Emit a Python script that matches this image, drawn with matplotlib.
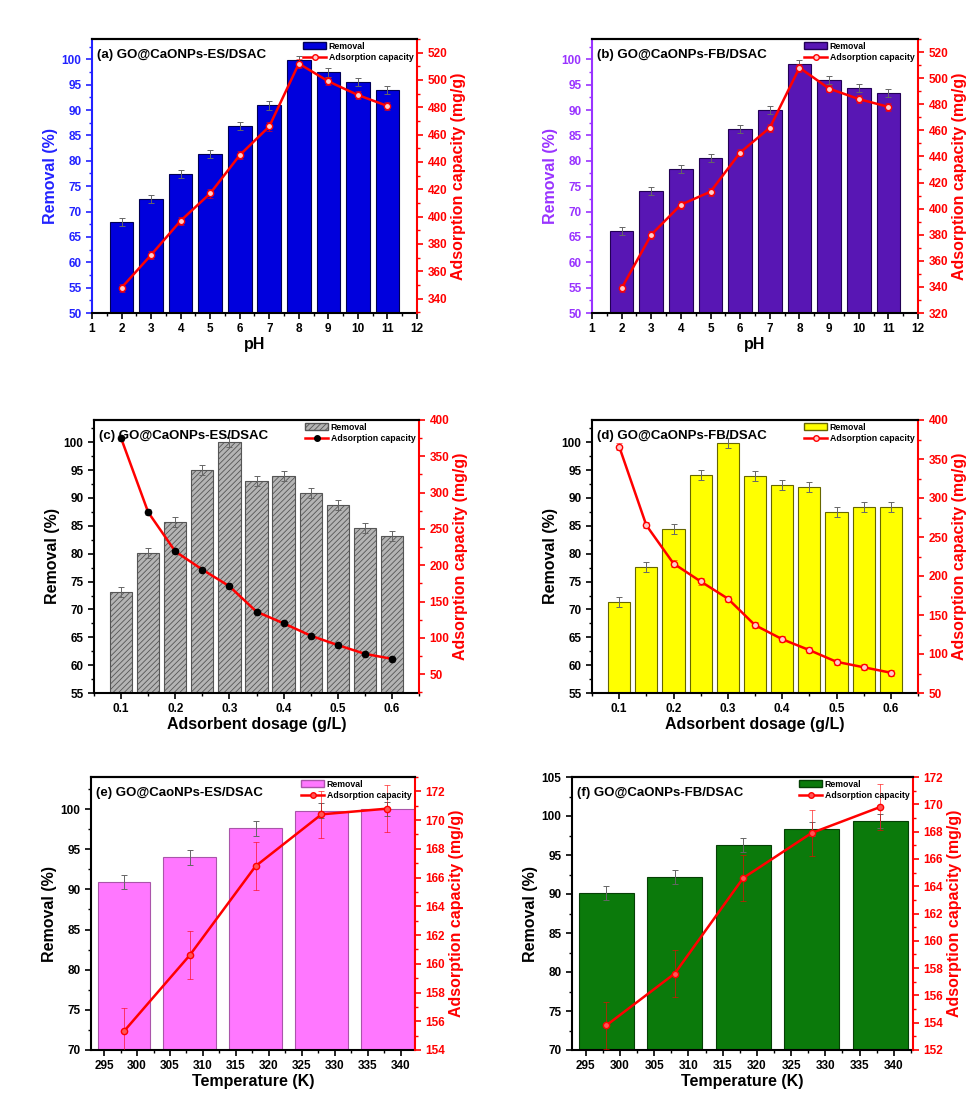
import numpy as np
import matplotlib
matplotlib.use("Agg")
import matplotlib.pyplot as plt
from matplotlib.ticker import AutoMinorLocator, MultipleLocator
from matplotlib.patches import Patch
from matplotlib.lines import Line2D

plt.rcParams['font.family'] = ['Liberation Sans', 'DejaVu Sans']
plt.rcParams['font.weight'] = 'bold'
plt.rcParams['hatch.linewidth'] = 0.6

# pH series
ph = [2, 3, 4, 5, 6, 7, 8, 9, 10, 11]
rem_a = [68.0, 72.5, 77.4, 81.4, 86.8, 90.9, 99.9, 97.4, 95.5, 94.0]
cap_a = [348, 372, 397, 417, 445, 466, 512, 499, 489, 481]
rem_b = [66.1, 74.0, 78.4, 80.5, 86.3, 90.0, 99.0, 95.9, 94.4, 93.3]
cap_b = [339, 380, 403, 413, 443, 462, 508, 492, 484, 478]

# adsorbent dosage series
dose = [0.1, 0.15, 0.2, 0.25, 0.3, 0.35, 0.4, 0.45, 0.5, 0.55, 0.6]
rem_c = [73.1, 80.1, 85.7, 95.0, 100.0, 93.1, 94.0, 90.9, 88.8, 84.6, 83.1]
cap_c = [375, 273, 219, 194, 171, 136, 120, 103, 90, 78, 71]
rem_d = [71.4, 77.6, 84.4, 94.1, 99.9, 93.9, 92.4, 92.0, 87.5, 88.3, 88.3]
cap_d = [366, 265, 216, 193, 171, 137, 119, 105, 90, 83, 76]

# temperature series
temp = [298, 308, 318, 328, 338]
rem_e = [90.9, 94.0, 97.6, 99.8, 100.0]
cap_e = [155.3, 160.6, 166.8, 170.4, 170.8]
rem_f = [90.1, 92.2, 96.3, 98.3, 99.4]
cap_f = [153.8, 157.6, 164.6, 167.9, 169.8]

W, H = 970, 1102
fig = plt.figure(figsize=(W / 100, H / 100), dpi=100)


def box(l, r, t, b):
    return [l / W, 1 - b / H, (r - l) / W, (b - t) / H]


def panel(rect, x, rem, cap, title, xlabel, bw, bar_fc, bar_ec, left_c,
          xlim, ylim, ylim2, xstep, ystep, y2step, rem_err, cap_err,
          mk_fc, mk_ec, hatch=None, cap_err_c='red'):
    ax = fig.add_axes(rect)
    ax.bar(x, rem, width=bw, color=bar_fc, edgecolor=bar_ec, linewidth=0.8,
           hatch=hatch, zorder=2)
    ax.errorbar(x, rem, yerr=rem_err, fmt='none', ecolor='#666666',
                elinewidth=0.7, capsize=2.5, capthick=0.7, zorder=3)
    ax.set_xlim(*xlim)
    ax.set_ylim(*ylim)
    ax.xaxis.set_major_locator(MultipleLocator(xstep))
    ax.yaxis.set_major_locator(MultipleLocator(ystep))
    ax.xaxis.set_minor_locator(AutoMinorLocator(2))
    ax.yaxis.set_minor_locator(AutoMinorLocator(2))

    ax2 = ax.twinx()
    ax2.errorbar(x, cap, yerr=cap_err, fmt='none', ecolor=cap_err_c,
                 elinewidth=0.6, capsize=2.5, capthick=0.6, alpha=0.7, zorder=3)
    ax2.plot(x, cap, color='red', lw=1.8, marker='o', ms=4.5,
             mfc=mk_fc, mec=mk_ec, mew=1.0, zorder=4)
    ax2.set_ylim(*ylim2)
    ax2.yaxis.set_major_locator(MultipleLocator(y2step))
    ax2.yaxis.set_minor_locator(AutoMinorLocator(2))

    for a in (ax, ax2):
        for s in a.spines.values():
            s.set_linewidth(1.5)
    ax.spines['right'].set_visible(False)
    ax2.spines['left'].set_visible(False)
    ax2.spines['bottom'].set_visible(False)
    ax.spines['left'].set_color(left_c)
    ax2.spines['right'].set_color('red')

    ax.tick_params(axis='both', which='major', direction='out', length=4,
                   width=1.2, labelsize=8.5)
    ax.tick_params(axis='both', which='minor', direction='out', length=2.2,
                   width=1.0)
    ax.tick_params(axis='y', which='both', colors=left_c)
    ax2.tick_params(axis='y', which='major', direction='out', length=4,
                    width=1.2, labelsize=8.5, colors='red')
    ax2.tick_params(axis='y', which='minor', direction='out', length=2.2,
                    width=1.0, colors='red')
    for lab in ax.get_xticklabels() + ax.get_yticklabels() + ax2.get_yticklabels():
        lab.set_fontweight('bold')

    ax.set_xlabel(xlabel, fontsize=11.5, fontweight='bold', labelpad=1)
    ax.set_ylabel('Removal (%)', fontsize=11.5, fontweight='bold',
                  color=left_c, labelpad=3)
    ax2.set_ylabel('Adsorption capacity (mg/g)', fontsize=11.5,
                   fontweight='bold', color='red', labelpad=3)

    ax.text(0.015, 0.965, title, transform=ax.transAxes, fontsize=9.5,
            fontweight='bold', va='top', ha='left', zorder=6)

    handles = [Patch(facecolor=bar_fc, edgecolor=bar_ec, hatch=hatch),
               Line2D([], [], color='red', lw=1.8, marker='o', ms=4,
                      mfc=mk_fc, mec=mk_ec)]
    leg = ax2.legend(handles, ['Removal', 'Adsorption capacity'],
                     loc='upper right', bbox_to_anchor=(1.005, 1.01),
                     frameon=False, fontsize=6.3, handlelength=2.6,
                     handletextpad=0.3, labelspacing=0.25, borderaxespad=0.2)
    for t in leg.get_texts():
        t.set_fontweight('bold')
    return ax, ax2


# (a) and (b): effect of pH
panel(box(92, 417, 39, 313), ph, rem_a, cap_a, '(a) GO@CaONPs-ES/DSAC', 'pH',
      0.8, '#0000dd', '#000055', '#2222ff', (1, 12), (50, 104), (329.5, 530),
      1, 5, 20, 0.8, 3, '#ffcccc', 'red')
panel(box(592, 918, 39, 313), ph, rem_b, cap_b, '(b) GO@CaONPs-FB/DSAC', 'pH',
      0.8, '#5816b4', '#220055', '#9933ff', (1, 12), (50, 104), (320, 530),
      1, 5, 20, 0.8, 3, '#ffcccc', 'red')

# (c) and (d): effect of adsorbent dosage
panel(box(94, 419, 420, 693), dose, rem_c, cap_c, '(c) GO@CaONPs-ES/DSAC',
      'Adsorbent dosage (g/L)', 0.041, '#b4b4b4', '#555555', 'black',
      (0.05, 0.65), (55, 104), (24, 400), 0.1, 5, 50, 0.9, 4,
      'black', 'black', hatch='//////', cap_err_c='#777777')
panel(box(592, 918, 420, 693), dose, rem_d, cap_d, '(d) GO@CaONPs-FB/DSAC',
      'Adsorbent dosage (g/L)', 0.041, '#ffff00', '#666600', 'black',
      (0.05, 0.65), (55, 104), (50, 400), 0.1, 5, 50, 0.9, 4,
      '#ffcccc', 'red')

# (e) and (f): effect of temperature
panel(box(91, 415, 777, 1050), temp, rem_e, cap_e, '(e) GO@CaoNPs-ES/DSAC',
      'Temperature (K)', 8, '#ff77ff', '#aa55aa', 'black',
      (293, 342.2), (70, 104), (154, 173), 5, 5, 2, 0.9, 1.65,
      '#ff5555', 'red')
panel(box(572, 913, 777, 1050), temp, rem_f, cap_f, '(f) GO@CaONPs-FB/DSAC',
      'Temperature (K)', 8, '#0b7a0b', '#054005', 'black',
      (293, 342.8), (70, 105), (152, 172), 5, 5, 2, 0.9, 1.7,
      '#ff5555', 'red')

fig.savefig('out.png', dpi=100)
